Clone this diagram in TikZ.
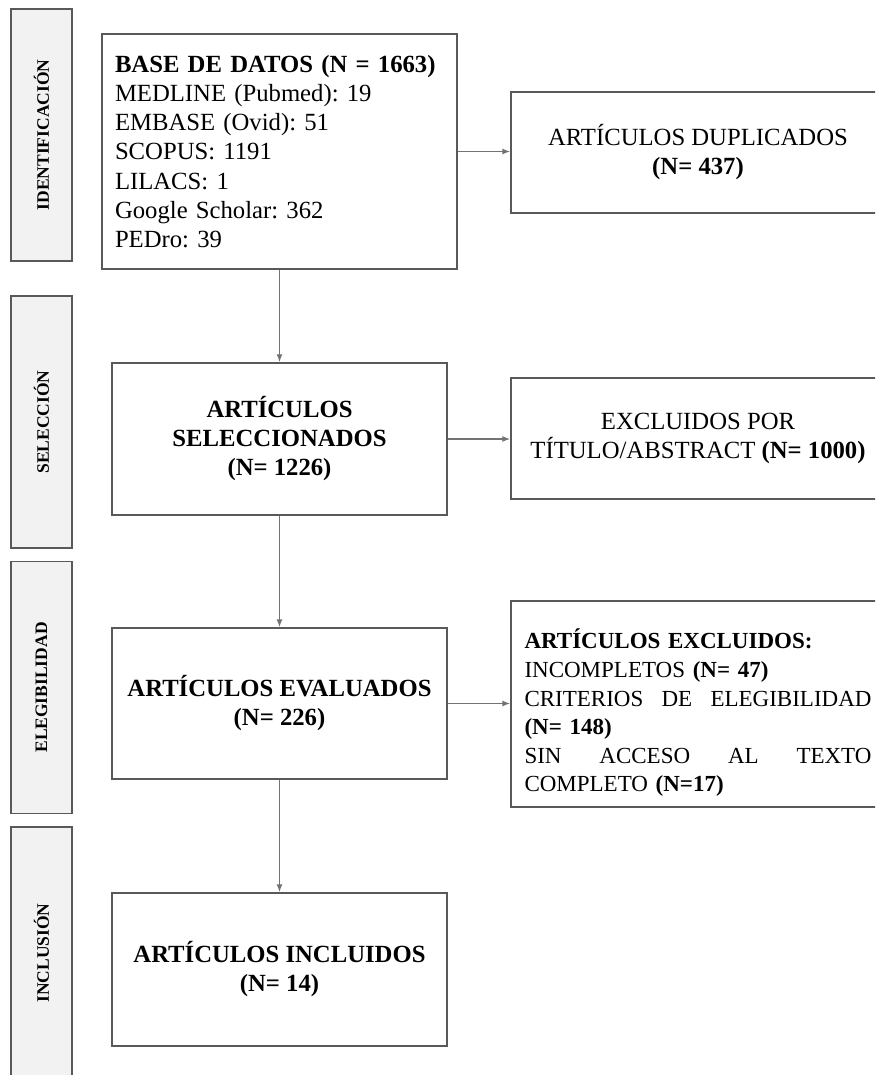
\documentclass[tikz,border=0pt]{standalone}
\usepackage{fontspec}
\setmainfont{Liberation Serif}
\usetikzlibrary{arrows.meta}
\frenchspacing
\begin{document}
\begin{tikzpicture}[x=1pt,y=-1pt,
  bar/.style={draw=black!65, line width=1.5pt, fill=black!5, minimum width=61pt, minimum height=252pt, inner sep=0pt, font=\fontsize{17.5}{20}\selectfont\bfseries},
  box/.style={draw=black!65, line width=1.5pt, inner sep=0pt, align=center, font=\fontsize{24.7}{29}\selectfont\frenchspacing},
  conn/.style={draw=black!55, line width=1.2pt, -{Latex[length=8pt,width=6pt]}}]
\useasboundingbox (0,0) rectangle (875,1075);
\clip (0,0) rectangle (875,1075);
% phase bars
\node[bar] (b1) at (41.5,135)   {\rotatebox{90}{IDENTIFICACIÓN}};
\node[bar] (b2) at (41.5,422)   {\rotatebox{90}{SELECCIÓN}};
\node[bar] (b3) at (41.5,687.5) {\rotatebox{90}{ELEGIBILIDAD}};
\node[bar] (b4) at (41.5,953)   {\rotatebox{90}{INCLUSIÓN}};
% main column
\node[box, align=left, text width=329pt, minimum width=355pt, minimum height=235pt,
      font=\fontsize{24.7}{29.2}\selectfont\frenchspacing] (base) at (279.5,151.5)
  {\textbf{BASE DE DATOS (N = 1663)}\\
   MEDLINE (Pubmed): 19\\
   EMBASE (Ovid): 51\\
   SCOPUS: 1191\\
   LILACS: 1\\
   Google Scholar: 362\\
   PEDro: 39};
\node[box, minimum width=335pt, minimum height=152pt] (sel) at (279.5,439)
  {\textbf{ARTÍCULOS}\\ \textbf{SELECCIONADOS}\\ \textbf{(N= 1226)}};
\node[box, minimum width=335pt, minimum height=151pt] (eva) at (279.5,703.5)
  {\textbf{ARTÍCULOS EVALUADOS}\\ \textbf{(N= 226)}};
\node[box, minimum width=335pt, minimum height=153pt] (inc) at (279.5,969.5)
  {\textbf{ARTÍCULOS INCLUIDOS}\\ \textbf{(N= 14)}};
% right column
\node[box, minimum width=374pt, minimum height=121pt] (dup) at (698,152.5)
  {ARTÍCULOS DUPLICADOS\\ \textbf{(N= 437)}};
\node[box, minimum width=374pt, minimum height=121pt] (ex1) at (698,438.5)
  {EXCLUIDOS POR\\ TÍTULO/ABSTRACT \textbf{(N= 1000)}};
\node[box, minimum width=374pt, minimum height=206pt] (ex2) at (698,704) {};
\node[align=left, text width=347pt, inner sep=0pt,
      font=\fontsize{23}{28.6}\selectfont\frenchspacing] (ex2t) at ([yshift=-9pt]ex2.center)
  {\textbf{ARTÍCULOS EXCLUIDOS:}\\
   INCOMPLETOS \textbf{(N= 47)}\\
   \leavevmode\hbox to 347pt{CRITERIOS\hfill DE\hfill ELEGIBILIDAD}\\
   \textbf{(N= 148)}\\
   \leavevmode\hbox to 347pt{SIN\hfill ACCESO\hfill AL\hfill TEXTO}\\
   COMPLETO \textbf{(N=17)}};
% connectors
\draw[conn] (base.south) -- (sel.north);
\draw[conn] (sel.south) -- (eva.north);
\draw[conn] (eva.south) -- (inc.north);
\draw[conn] (base.east) -- (base.east -| dup.west);
\draw[conn] (sel.east) -- (sel.east -| ex1.west);
\draw[conn] (eva.east) -- (eva.east -| ex2.west);
\end{tikzpicture}
\end{document}
